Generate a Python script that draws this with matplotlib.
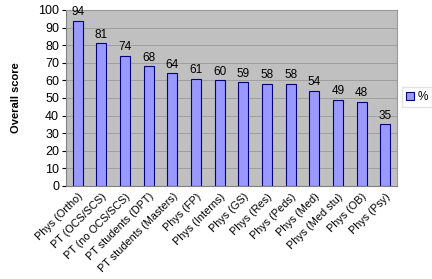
import matplotlib
matplotlib.use("Agg")
import matplotlib.pyplot as plt
import numpy as np

categories = ["Phys (Ortho)", "PT (OCS/SCS)", "PT (no OCS/SCS)", "PT students (DPT)",
              "PT students (Masters)", "Phys (FP)", "Phys (Interns)", "Phys (GS)",
              "Phys (Res)", "Phys (Peds)", "Phys (Med)", "Phys (Med stu)",
              "Phys (OB)", "Phys (Psy)"]
values = [94, 81, 74, 68, 64, 61, 60, 59, 58, 58, 54, 49, 48, 35]
labels = ["94", "81", "74", "68", "64", "61", "60", "59", "58", "58", "54", "49", "48", "35"]

plt.rcParams['font.family'] = ['Liberation Sans', 'DejaVu Sans']

fig = plt.figure(figsize=(4.32, 2.79), dpi=100)
ax = fig.add_axes([66/432, 1-186/279, (397-66)/432, (186-10)/279])
ax.set_facecolor('#C0C0C0')
x = np.arange(len(categories))
bars = ax.bar(x, values, width=0.42, color='#9999FF', edgecolor='#000080', linewidth=0.8,
              label='%', zorder=3)
for xi, v, t in zip(x, values, labels):
    ax.text(xi, v + 1.5, t, ha='center', va='bottom', fontsize=8.5, zorder=4)
ax.set_xlim(-0.5, len(categories) - 0.5)
ax.set_ylim(0, 100)
ax.set_yticks(range(0, 101, 10))
ax.yaxis.grid(True, color='#999999', linewidth=0.6, zorder=0)
ax.set_axisbelow(True)
ax.set_xticks(x)
ax.set_xticklabels(categories, rotation=45, ha='right', rotation_mode='anchor', fontsize=7.8)
ax.tick_params(axis='y', labelsize=9, length=3, pad=2)
ax.tick_params(axis='x', length=0, pad=4)
for s in ['top', 'right']:
    ax.spines[s].set_color('#999999')
for s in ['left', 'bottom']:
    ax.spines[s].set_color('#808080')
ax.set_ylabel('Overall score', fontsize=8, fontweight='bold', labelpad=12)
leg = fig.legend(handles=[bars], labels=['%'], loc='center left',
                 bbox_to_anchor=(402/432, 1-97/279), fontsize=8.5, frameon=True,
                 fancybox=False, edgecolor='#DDDDDD', handlelength=0.7, handleheight=0.7,
                 handletextpad=0.3, borderpad=0.35, borderaxespad=0)
fig.savefig('out.png', dpi=100, facecolor='white')
